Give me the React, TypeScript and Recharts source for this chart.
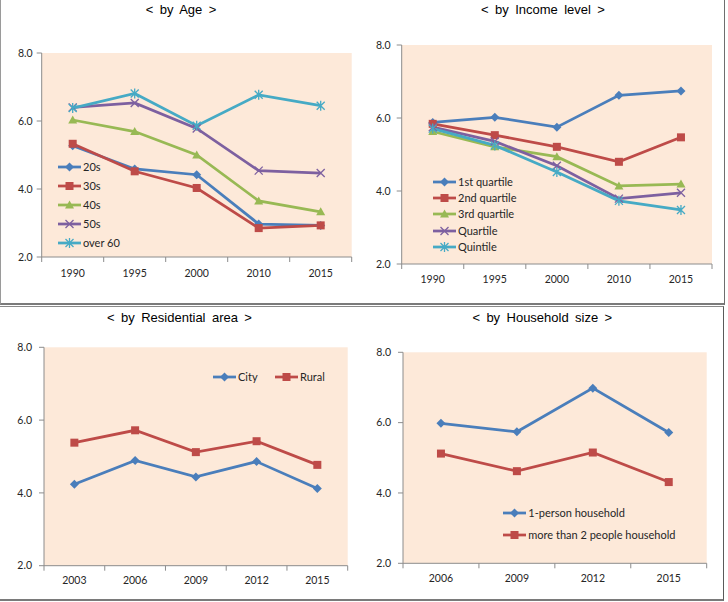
import React from 'react';
import { LineChart, Line, XAxis, YAxis, CartesianGrid, Legend } from 'recharts';

// ---------- data ----------
const ageYears = ['1990', '1995', '2000', '2010', '2015'];
const age20s = [5.27, 4.59, 4.42, 2.97, 2.93];
const age30s = [5.33, 4.52, 4.03, 2.85, 2.93];
const age40s = [6.03, 5.69, 5.0, 3.65, 3.33];
const age50s = [6.4, 6.53, 5.78, 4.54, 4.47];
const ageOver60 = [6.38, 6.81, 5.86, 6.77, 6.45];

const incomeYears = ['1990', '1995', '2000', '2010', '2015'];
const income1st = [5.88, 6.02, 5.75, 6.62, 6.74];
const income2nd = [5.84, 5.53, 5.21, 4.8, 5.47];
const income3rd = [5.63, 5.21, 4.94, 4.14, 4.19];
const incomeQuartile = [5.75, 5.36, 4.69, 3.79, 3.95];
const incomeQuintile = [5.71, 5.25, 4.52, 3.73, 3.48];

const areaYears = ['2003', '2006', '2009', '2012', '2015'];
const areaCity = [4.24, 4.89, 4.44, 4.86, 4.12];
const areaRural = [5.38, 5.72, 5.12, 5.42, 4.77];

const householdYears = ['2006', '2009', '2012', '2015'];
const householdOne = [5.98, 5.74, 6.98, 5.72];
const householdMore = [5.12, 4.62, 5.15, 4.31];

const yTicks = [2, 4, 6, 8];

// ---------- styles ----------
const BLUE = '#4A7EBB';
const RED = '#BE4B48';
const GREEN = '#98B954';
const PURPLE = '#7D60A0';
const CYAN = '#46AAC5';
const PEACH = '#FDE9D9';
const AXIS = '#8C8C8C';
const TEXT = '#262626';
const FONT = 'Lato, "Noto Sans", sans-serif';

type Series = { key: string; name: string; values: number[]; color: string; marker: string };

const ageSeries: Series[] = [
  { key: 's20', name: '20s', values: age20s, color: BLUE, marker: 'diamond' },
  { key: 's30', name: '30s', values: age30s, color: RED, marker: 'square' },
  { key: 's40', name: '40s', values: age40s, color: GREEN, marker: 'triangle' },
  { key: 's50', name: '50s', values: age50s, color: PURPLE, marker: 'x' },
  { key: 's60', name: 'over 60', values: ageOver60, color: CYAN, marker: 'star' },
];
const incomeSeries: Series[] = [
  { key: 'q1', name: '1st quartile', values: income1st, color: BLUE, marker: 'diamond' },
  { key: 'q2', name: '2nd quartile', values: income2nd, color: RED, marker: 'square' },
  { key: 'q3', name: '3rd quartile', values: income3rd, color: GREEN, marker: 'triangle' },
  { key: 'q4', name: 'Quartile', values: incomeQuartile, color: PURPLE, marker: 'x' },
  { key: 'q5', name: 'Quintile', values: incomeQuintile, color: CYAN, marker: 'star' },
];
const areaSeries: Series[] = [
  { key: 'city', name: 'City', values: areaCity, color: BLUE, marker: 'diamond' },
  { key: 'rural', name: 'Rural', values: areaRural, color: RED, marker: 'square' },
];
const householdSeries: Series[] = [
  { key: 'one', name: '1-person household', values: householdOne, color: BLUE, marker: 'diamond' },
  { key: 'more', name: 'more than 2 people household', values: householdMore, color: RED, marker: 'square' },
];

function Marker({ kind, cx, cy, color }: { kind: string; cx: number; cy: number; color: string }) {
  switch (kind) {
    case 'diamond':
      return <polygon points={`${cx},${cy - 4.5} ${cx + 4.5},${cy} ${cx},${cy + 4.5} ${cx - 4.5},${cy}`} fill={color} />;
    case 'square':
      return <rect x={cx - 4} y={cy - 4} width={8} height={8} fill={color} />;
    case 'triangle':
      return <polygon points={`${cx},${cy - 4.5} ${cx + 4.5},${cy + 3.5} ${cx - 4.5},${cy + 3.5}`} fill={color} />;
    case 'x':
      return (
        <path d={`M${cx - 4},${cy - 4}L${cx + 4},${cy + 4}M${cx + 4},${cy - 4}L${cx - 4},${cy + 4}`} stroke={color} strokeWidth={1.3} fill="none" />
      );
    case 'star':
      return (
        <path
          d={`M${cx - 4},${cy - 4}L${cx + 4},${cy + 4}M${cx + 4},${cy - 4}L${cx - 4},${cy + 4}M${cx},${cy - 5}L${cx},${cy + 5}`}
          stroke={color}
          strokeWidth={1.3}
          fill="none"
        />
      );
    default:
      return null;
  }
}

type LegendCfg = {
  left: number;
  top: number;
  layout: 'vertical' | 'horizontal';
  rowHeight: number;
  itemWidth?: number;
};

type PanelProps = {
  left: number;
  top: number;
  width: number;
  height: number;
  plot: { x0: number; x1: number; y0: number; y1: number };
  title: string;
  titleX: number;
  titleY: number;
  categories: string[];
  series: Series[];
  legend: LegendCfg;
  yMargin: number;
  xLabelOffset: number;
};

const Y_AXIS_W = 34;
const X_AXIS_H = 30;

function Panel(p: PanelProps) {
  const n = p.categories.length;
  const data = p.categories.map((c, i) => {
    const row: any = { x: i + 0.5, cat: c };
    p.series.forEach((s) => {
      row[s.key] = s.values[i];
    });
    return row;
  });
  const xTicks: number[] = [];
  for (let i = 0; i <= 2 * n; i++) xTicks.push(i / 2);

  const margin = {
    left: p.plot.x0 - Y_AXIS_W,
    right: p.width - p.plot.x1,
    top: p.plot.y0,
    bottom: p.height - p.plot.y1 - X_AXIS_H,
  };

  const XTick = (props: any) => {
    const { x, y, payload } = props;
    const v = payload.value;
    if (Number.isInteger(v)) {
      return <line x1={x} x2={x} y1={y} y2={y + 5} stroke={AXIS} strokeWidth={1} />;
    }
    return (
      <text x={x} y={y + p.xLabelOffset} textAnchor="middle" dominantBaseline="central" fontSize={10.5} fontFamily={FONT} fill={TEXT}>
        {p.categories[Math.floor(v)]}
      </text>
    );
  };

  const legendContent = (props: any) => {
    const payload = props.payload || [];
    const lg = p.legend;
    return (
      <div style={{ display: 'flex', flexDirection: lg.layout === 'vertical' ? 'column' : 'row', fontFamily: FONT, fontSize: 11, color: TEXT }}>
        {payload.map((entry: any, i: number) => {
          const s = p.series.find((ss) => ss.key === entry.dataKey) || p.series[i];
          return (
            <div
              key={s.key}
              style={{
                display: 'flex',
                alignItems: 'center',
                height: lg.rowHeight,
                width: lg.layout === 'horizontal' ? lg.itemWidth : undefined,
                whiteSpace: 'nowrap',
              }}
            >
              <svg width={23} height={12} style={{ display: 'block', flex: 'none' }}>
                <line x1={0} x2={23} y1={6} y2={6} stroke={s.color} strokeWidth={2.75} />
                <Marker kind={s.marker} cx={11.5} cy={6} color={s.color} />
              </svg>
              <span style={{ marginLeft: 2, lineHeight: '12px' }}>{s.name}</span>
            </div>
          );
        })}
      </div>
    );
  };

  return (
    <div style={{ position: 'absolute', left: p.left, top: p.top, width: p.width, height: p.height }}>
      <div
        style={{
          position: 'absolute',
          left: p.titleX - p.left - 150,
          top: p.titleY - p.top - 8,
          width: 300,
          textAlign: 'center',
          fontFamily: '"Liberation Sans", Arial, sans-serif',
          fontSize: 13,
          lineHeight: '16px',
          wordSpacing: '2.8px',
          color: '#000',
          zIndex: 2,
        }}
      >
        {p.title}
      </div>
      <LineChart width={p.width} height={p.height} data={data} margin={margin}>
        <CartesianGrid fill={PEACH} stroke="none" horizontal={false} vertical={false} />
        <XAxis
          dataKey="x"
          type="number"
          domain={[0, n]}
          ticks={xTicks}
          interval={0}
          height={X_AXIS_H}
          tickSize={0}
          tickMargin={0}
          tickLine={false}
          axisLine={{ stroke: AXIS, strokeWidth: 1 }}
          tick={<XTick />}
        />
        <YAxis
          type="number"
          domain={[2, 8]}
          ticks={yTicks}
          width={Y_AXIS_W}
          tickSize={5}
          tickMargin={p.yMargin}
          tickFormatter={(v: number) => v.toFixed(1)}
          axisLine={{ stroke: AXIS, strokeWidth: 1 }}
          tickLine={{ stroke: AXIS, strokeWidth: 1 }}
          tick={{ fontSize: 10.5, fontFamily: FONT, fill: TEXT }}
        />
        {p.series.map((s) => (
          <Line
            key={s.key}
            dataKey={s.key}
            name={s.name}
            stroke={s.color}
            strokeWidth={2.75}
            isAnimationActive={false}
            dot={(dp: any) => (
              <g key={`${s.key}-${dp.index}`}>
                <Marker kind={s.marker} cx={dp.cx} cy={dp.cy} color={s.color} />
              </g>
            )}
            activeDot={false}
          />
        ))}
        <Legend
          layout={p.legend.layout}
          align="center"
          verticalAlign="middle"
          wrapperStyle={{ left: p.legend.left, top: p.legend.top, width: 'auto', margin: 0 }}
          content={legendContent}
        />
      </LineChart>
    </div>
  );
}

export default function App() {
  return (
    <div style={{ position: 'absolute', left: 0, top: 0, width: 728, height: 602, background: '#fff', overflow: 'hidden' }}>
      {/* frames */}
      <div
        style={{
          position: 'absolute',
          left: 0,
          top: -4,
          width: 725,
          height: 309,
          boxSizing: 'border-box',
          borderLeft: '1px solid #9a9a9a',
          borderRight: '1.5px solid #6e6e6e',
          borderBottom: '2px solid #7a7a7a',
        }}
      />
      <div
        style={{
          position: 'absolute',
          left: -4,
          top: 306,
          width: 728,
          height: 295,
          boxSizing: 'border-box',
          borderTop: '1px solid #8a8a8a',
          borderRight: '1.5px solid #5a5a5a',
          borderBottom: '2px solid #7a7a7a',
        }}
      />
      <Panel
        left={0}
        top={0}
        width={364}
        height={300}
        plot={{ x0: 41.7, x1: 351.7, y0: 53, y1: 257 }}
        title="< by Age >"
        titleX={181}
        titleY={9.5}
        categories={ageYears}
        series={ageSeries}
        legend={{ left: 58, top: 157.5, layout: 'vertical', rowHeight: 19 }}
        yMargin={4}
        xLabelOffset={16}
      />
      <Panel
        left={364}
        top={0}
        width={364}
        height={300}
        plot={{ x0: 37.7, x1: 348, y0: 45, y1: 264 }}
        title="< by Income level >"
        titleX={543}
        titleY={9.5}
        categories={incomeYears}
        series={incomeSeries}
        legend={{ left: 69, top: 173.5, layout: 'vertical', rowHeight: 16.4 }}
        yMargin={6}
        xLabelOffset={15}
      />
      <Panel
        left={0}
        top={300}
        width={364}
        height={300}
        plot={{ x0: 44, x1: 347.7, y0: 47.3, y1: 265.7 }}
        title="< by Residential area >"
        titleX={179.5}
        titleY={318.3}
        categories={areaYears}
        series={areaSeries}
        legend={{ left: 213, top: 69.3, layout: 'horizontal', rowHeight: 16, itemWidth: 62 }}
        yMargin={7}
        xLabelOffset={14.5}
      />
      <Panel
        left={364}
        top={300}
        width={364}
        height={300}
        plot={{ x0: 39, x1: 342.7, y0: 52.3, y1: 263.3 }}
        title="< by Household size >"
        titleX={542.3}
        titleY={318.3}
        categories={householdYears}
        series={householdSeries}
        legend={{ left: 139.3, top: 201.5, layout: 'vertical', rowHeight: 22.3 }}
        yMargin={7}
        xLabelOffset={15}
      />
    </div>
  );
}
